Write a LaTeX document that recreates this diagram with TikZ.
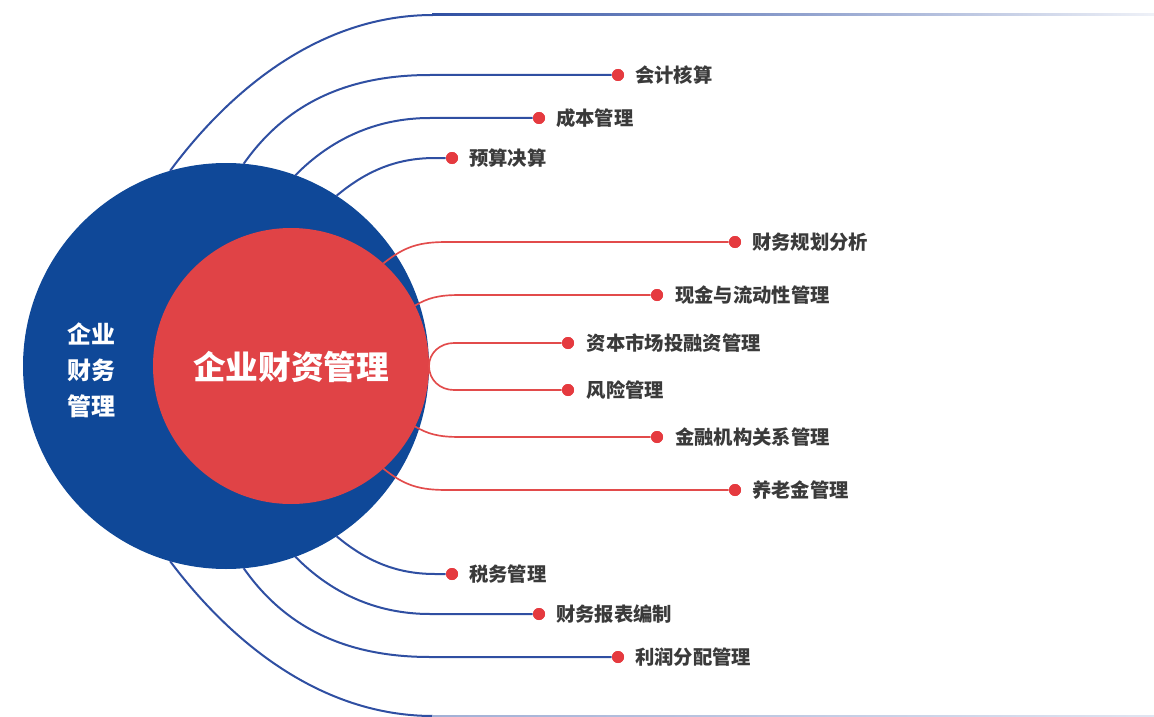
\documentclass[tikz,border=0pt]{standalone}
\usepackage{fontspec}
\newfontfamily\cjk{Noto Sans CJK SC}
\definecolor{bigblue}{HTML}{0F4898}
\definecolor{bigred}{HTML}{E04346}
\definecolor{lineblue}{HTML}{2F4FA2}
\definecolor{linered}{HTML}{E24B4B}
\definecolor{dotred}{HTML}{E53A3F}
\definecolor{labelgray}{HTML}{3A3A3A}
\begin{document}
\begin{tikzpicture}[x=0.75pt,y=-0.75pt,
  bline/.style={draw=lineblue, line width=1.5pt},
  rline/.style={draw=linered, line width=1.25pt},
  dotnode/.style={circle, fill=dotred, minimum size=9pt, inner sep=0pt},
  lbl/.style={anchor=west, inner sep=0pt, font=\cjk\bfseries\fontsize{14.5}{16}\selectfont, text=labelgray}]
\useasboundingbox (0,0) rectangle (1154,717);
% circles
\node[circle, fill=bigblue, minimum size=304.5pt, inner sep=0pt, outer sep=0pt] (outer) at (226,366) {};
\node[circle, fill=bigred, minimum size=207pt, inner sep=0pt, outer sep=0pt] (inner) at (291,366) {};
\node[font=\cjk\bfseries\fontsize{24.5}{28}\selectfont, text=white, inner sep=0pt] (title) at (291,367) {企业财资管理};
\node[align=center, font=\cjk\bfseries\fontsize{18}{27}\selectfont, text=white, inner sep=0pt] (side) at (91,370) {企业\\财务\\管理};
% dots
\node[dotnode] (a1) at (618,75) {};
\node[dotnode] (a2) at (539,118) {};
\node[dotnode] (a3) at (452,158) {};
\node[dotnode] (b1) at (735,242) {};
\node[dotnode] (b2) at (657,295) {};
\node[dotnode] (b3) at (568,343) {};
\node[dotnode] (b4) at (568,390) {};
\node[dotnode] (b5) at (657,437) {};
\node[dotnode] (b6) at (735,490) {};
\node[dotnode] (c1) at (452,574) {};
\node[dotnode] (c2) at (539,614) {};
\node[dotnode] (c3) at (618,657) {};
\coordinate (topend) at (1154,15);
\coordinate (botend) at (1154,716);
% outer sweeping lines
\draw[bline] (outer.106.5) .. controls (230,90) and (320,15) .. (433,15) coordinate (topknee);
\shade[left color=lineblue, right color=lineblue!8] (432,14) rectangle ([yshift=-0.75pt]topend);
\draw[bline] (outer.-106.5) .. controls (230,641) and (320,716) .. (433,716) coordinate (botknee);
\shade[left color=lineblue!45, right color=lineblue!15] (432,715) rectangle ([yshift=-0.75pt]botend);
% blue connectors
\draw[bline] (outer.85.5) .. controls (285,105) and (345,75) .. (430,75) -- (a1);
\draw[bline] (outer.70.9) .. controls (330,140) and (375,118) .. (430,118) -- (a2);
\draw[bline] (outer.57.3) .. controls (365,172) and (395,158) .. (435,158) -- (a3);
\draw[bline] (outer.-85.5) .. controls (285,627) and (345,657) .. (430,657) -- (c3);
\draw[bline] (outer.-70.9) .. controls (330,592) and (375,614) .. (430,614) -- (c2);
\draw[bline] (outer.-57.3) .. controls (365,560) and (395,574) .. (435,574) -- (c1);
% red connectors
\draw[rline] (inner.48.4) .. controls (405,246) and (420,242) .. (447,242) -- (b1);
\draw[rline] (inner.26.4) .. controls (428,298) and (438,295) .. (460,295) -- (b2);
\draw[rline] (b3) -- (454,343) .. controls (440,343) and (429,353) .. (inner.east) .. controls (429,380) and (440,390) .. (454,390) -- (b4);
\draw[rline] (inner.-26.4) .. controls (428,434) and (438,437) .. (460,437) -- (b5);
\draw[rline] (inner.-48.4) .. controls (405,486) and (420,490) .. (447,490) -- (b6);
% redraw dots on top
\foreach \d in {a1,a2,a3,b1,b2,b3,b4,b5,b6,c1,c2,c3} \fill[dotred] (\d) circle (4.5pt);
% labels
\node[lbl] (la1) at ([xshift=12.75pt]a1.center) {会计核算};
\node[lbl] (la2) at ([xshift=12.75pt]a2.center) {成本管理};
\node[lbl] (la3) at ([xshift=12.75pt]a3.center) {预算决算};
\node[lbl] (lb1) at ([xshift=12.75pt]b1.center) {财务规划分析};
\node[lbl] (lb2) at ([xshift=13.5pt]b2.center) {现金与流动性管理};
\node[lbl] (lb3) at ([xshift=14pt]b3.center) {资本市场投融资管理};
\node[lbl] (lb4) at ([xshift=14pt]b4.center) {风险管理};
\node[lbl] (lb5) at ([xshift=13.5pt]b5.center) {金融机构关系管理};
\node[lbl] (lb6) at ([xshift=12.75pt]b6.center) {养老金管理};
\node[lbl] (lc1) at ([xshift=12.75pt]c1.center) {税务管理};
\node[lbl] (lc2) at ([xshift=12.75pt]c2.center) {财务报表编制};
\node[lbl] (lc3) at ([xshift=12.75pt]c3.center) {利润分配管理};
\end{tikzpicture}
\end{document}
